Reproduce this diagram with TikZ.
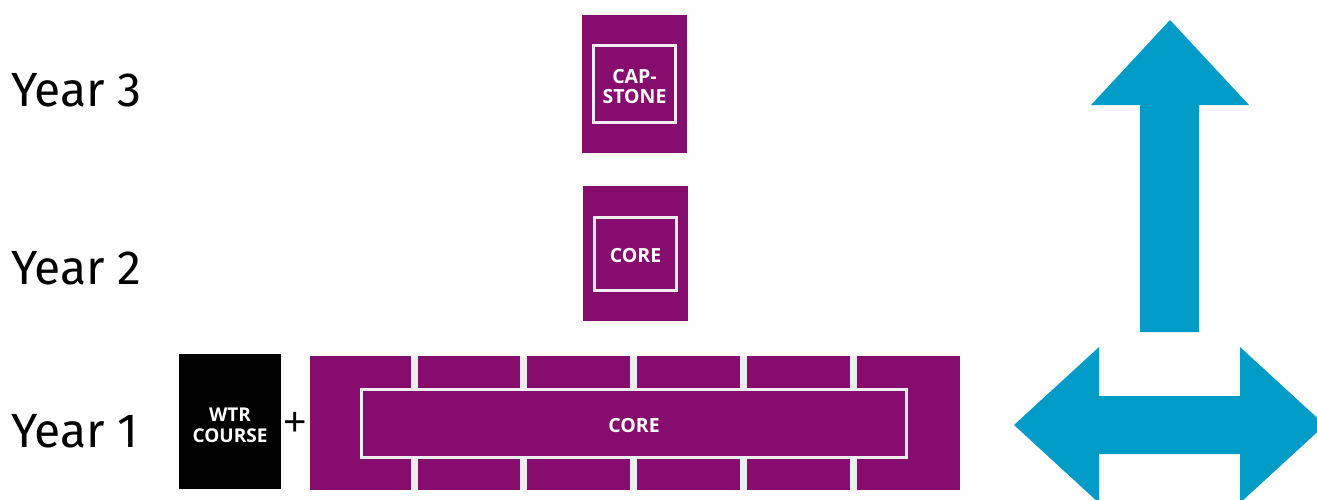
\documentclass[tikz,border=0pt]{standalone}
\usepackage{fontspec}
\setmainfont{Fira Sans}
\newfontfamily\labelfont{Open Sans}
\newfontfamily\plusfont{Liberation Sans}
\definecolor{plum}{HTML}{860D6E}
\definecolor{frame}{HTML}{EEEEEE}
\definecolor{sky}{HTML}{009CC7}
\begin{document}
\begin{tikzpicture}[x=1pt,y=-1pt,
  yearlabel/.style={anchor=west,inner sep=0pt,font=\fontsize{48}{50}\selectfont},
  block/.style={fill=plum,draw=none,inner sep=0pt,outer sep=0pt},
  framebox/.style={draw=frame,line width=3pt,inner sep=0pt,outer sep=0pt},
  boxtext/.style={inner sep=0pt,text=white,align=center,
    font=\labelfont\bfseries\fontsize{19.5}{20.5}\selectfont},
  bigarrow/.style={fill=sky,draw=none}]
\useasboundingbox (0,0) rectangle (1317,499);

% year labels
\node[yearlabel] (y3) at (11,90) {Year 3};
\node[yearlabel] (y2) at (11,268) {Year 2};
\node[yearlabel] (y1) at (11,431) {Year 1};

% year 3: capstone
\node[block,minimum width=105pt,minimum height=138pt] (cap) at (634.5,84) {};
\node[framebox,minimum width=82pt,minimum height=77pt] (capin) at (cap.center) {};
\node[boxtext] (captext) at (634.5,86.5) {CAP-\\STONE};

% year 2: core
\node[block,minimum width=105pt,minimum height=135pt] (core2) at (635.5,253.5) {};
\node[framebox,minimum width=82pt,minimum height=73pt] (core2in) at (core2.center) {};
\node[boxtext] (core2text) at (635.5,256) {CORE};

% year 1: writing course plus core block
\node[fill=black,inner sep=0pt,minimum width=102pt,minimum height=135pt] (wtr) at (230,421.5) {};
\node[boxtext,font=\labelfont\bfseries\fontsize{19}{21}\selectfont] (wtrtext) at (230,425.5) {WTR\\COURSE};
\node[inner sep=0pt,font=\plusfont\fontsize{40}{40}\selectfont] (plus) at (295,424) {+};
\node[block,minimum width=650pt,minimum height=134pt] (core1) at (635,423) {};
\foreach \gx in {411,520,630,740,850}{
  \fill[frame] (\gx,356) rectangle (\gx+7,388);
  \fill[frame] (\gx,459) rectangle (\gx+7,490);
}
\node[framebox,minimum width=545pt,minimum height=68pt] (core1in) at (634,423.5) {};
\node[boxtext] (core1text) at (634,426) {CORE};

% upward arrow
\fill[bigarrow] (1170,20) -- (1249,105) -- (1199,105) -- (1199,332)
  -- (1140,332) -- (1140,105) -- (1091,105) -- cycle;
% left-right arrow
\fill[bigarrow] (1014,425) -- (1099,347) -- (1099,396) -- (1240,396) -- (1240,347)
  -- (1325,425) -- (1240,503) -- (1240,454) -- (1099,454) -- (1099,503) -- cycle;
\end{tikzpicture}
\end{document}
